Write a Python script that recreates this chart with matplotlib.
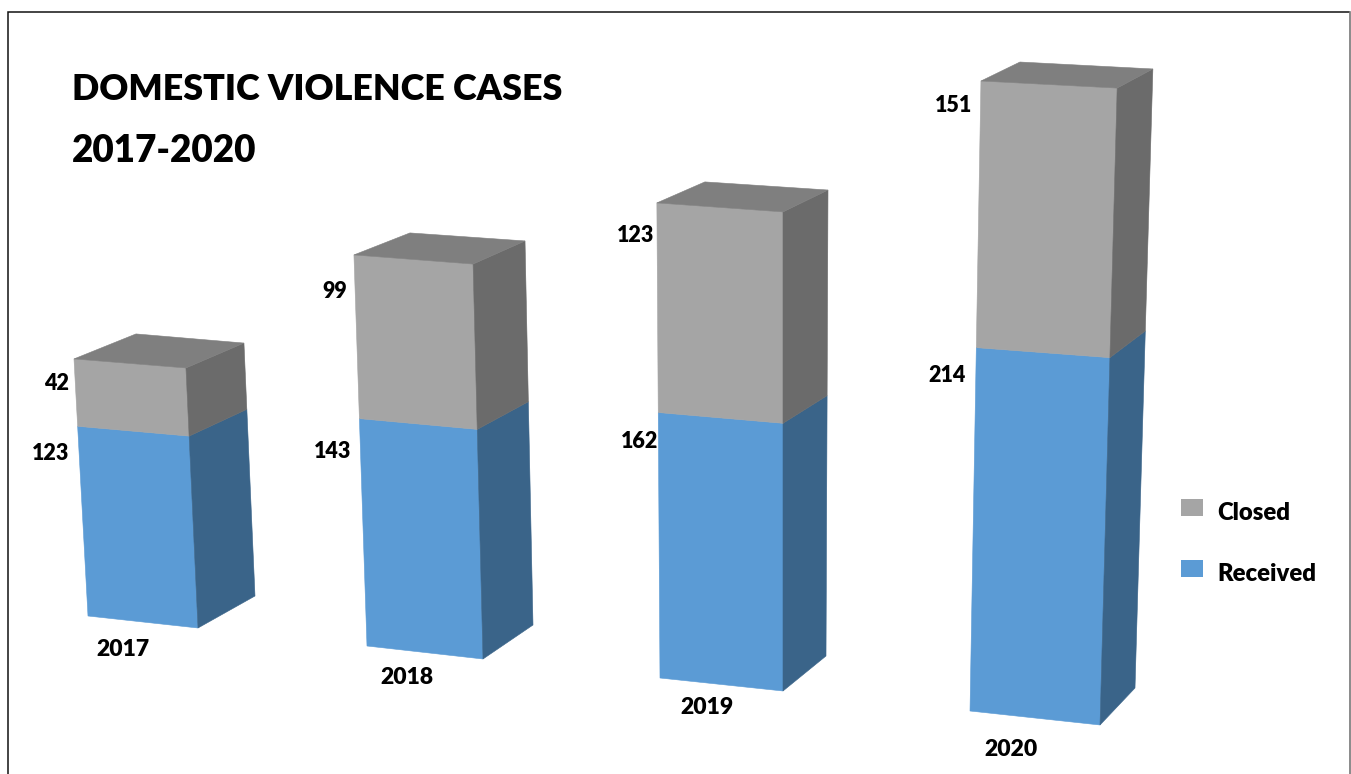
import matplotlib
matplotlib.use('Agg')
import matplotlib.pyplot as plt
from matplotlib.patches import Polygon, Patch

years = ['2017', '2018', '2019', '2020']
received = [123, 143, 162, 214]
closed = [42, 99, 123, 151]

BLUE, BLUE_SIDE = '#5B9BD5', '#3A6489'
GREY, GREY_SIDE, GREY_TOP = '#A5A5A5', '#6B6B6B', '#7F7F7F'

# layout of the fake 3d boxes, in pixels of the picture
# base corners: front left, front right, side back
base_left = [(88, 616), (367, 646), (660, 678), (970, 711)]
base_right = [(198, 628), (483, 659), (783, 691), (1100, 725)]
base_side = [(255, 596), (533, 625), (826, 656), (1135, 688)]
# pixels per case along each vertical edge
rate_left = [(-.085, -1.558), (-.054, -1.616), (-.011, -1.667), (.030, -1.726)]
rate_right = [(-.073, -1.576), (-.041, -1.632), (0, -1.681), (.047, -1.745)]
rate_side = [(-.067, -1.533), (-.033, -1.587), (.007, -1.635), (.049, -1.696)]
# back left corner of the lid, relative to the front left corner
lid_depth = [(62, -25), (56, -22), (48, -21), (39, -19)]
foreshorten = 1.04  # lower part of a box looks a bit longer

closed_label_pos = [(69, 384), (347, 291), (654, 235), (972, 106)]
received_label_pos = [(69, 453), (351, 452), (658, 441), (966, 376)]
year_label_pos = [(123, 650), (407, 677), (707, 708), (1011, 750)]


def edge_point(base, rate, value, total):
    t = value / total
    s = t / (t + (1 - t) * foreshorten)
    return base[0] + rate[0] * total * s, base[1] + rate[1] * total * s


plt.rcParams['font.family'] = ['Lato', 'DejaVu Sans']

fig = plt.figure(figsize=(13.51, 7.74), dpi=100)
ax = fig.add_axes([0, 0, 1, 1])
ax.set_xlim(0, 1351)
ax.set_ylim(774, 0)
ax.axis('off')

# page frame, no bottom line
ax.plot([7.5, 7.5, 1349], [774, 11.5, 11.5], color='#111111', lw=1.1, solid_joinstyle='miter')
ax.plot([1349.5, 1349.5], [11.5, 774], color='#777777', lw=1.2)

for i, year in enumerate(years):
    total = received[i] + closed[i]

    fl0 = base_left[i]
    fr0 = base_right[i]
    sb0 = base_side[i]
    fl1 = edge_point(fl0, rate_left[i], received[i], total)
    fr1 = edge_point(fr0, rate_right[i], received[i], total)
    sb1 = edge_point(sb0, rate_side[i], received[i], total)
    fl2 = edge_point(fl0, rate_left[i], total, total)
    fr2 = edge_point(fr0, rate_right[i], total, total)
    sb2 = edge_point(sb0, rate_side[i], total, total)
    bl2 = (fl2[0] + lid_depth[i][0], fl2[1] + lid_depth[i][1])

    faces = [
        ([fl0, fr0, fr1, fl1], BLUE),
        ([fr0, sb0, sb1, fr1], BLUE_SIDE),
        ([fl1, fr1, fr2, fl2], GREY),
        ([fr1, sb1, sb2, fr2], GREY_SIDE),
        ([fl2, fr2, sb2, bl2], GREY_TOP),
    ]
    for pts, c in faces:
        ax.add_patch(Polygon(pts, closed=True, facecolor=c, edgecolor=c, lw=0.4))

    ax.text(*closed_label_pos[i], str(closed[i]), fontsize=15.5, fontweight='heavy', ha='right', va='center')
    ax.text(*received_label_pos[i], str(received[i]), fontsize=15.5, fontweight='heavy', ha='right', va='center')
    ax.text(*year_label_pos[i], year, fontsize=16.5, fontweight='heavy', ha='center', va='center')

ax.text(72, 89, 'DOMESTIC VIOLENCE CASES', fontsize=25.8, fontweight='heavy', ha='left', va='center')
ax.text(72, 151, '2017-2020', fontsize=26.5, fontweight='heavy', ha='left', va='center')

handles = [Patch(facecolor=GREY, label='Closed'), Patch(facecolor=BLUE, label='Received')]
fontsize = 17.2
fs_px = fontsize / 0.72
leg = ax.legend(handles=handles, loc='upper left', bbox_to_anchor=(1181 / 1351, 1 - 502 / 774),
                frameon=False, borderpad=0, borderaxespad=0, prop={'size': fontsize, 'weight': 'heavy'},
                handlelength=22 / fs_px, handleheight=17 / fs_px, handletextpad=14 / fs_px,
                labelspacing=1.62, labelcolor='black')
# swatches sit a little above the text line
for p in leg.get_patches():
    p.set_y(p.get_y() + 3)

fig.savefig('out.png', dpi=100)
